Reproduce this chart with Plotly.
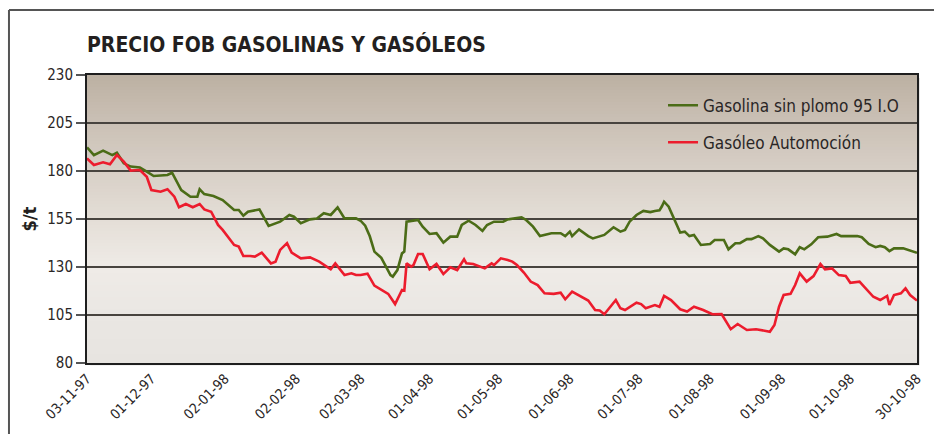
import plotly.graph_objects as go

# Precio FOB (dólares por tonelada), nov-1997 a oct-1998
fechas_gasolina = [
    "1997-11-03", "1997-11-06", "1997-11-10", "1997-11-14", "1997-11-16", "1997-11-19",
    "1997-11-22", "1997-11-26", "1997-11-29", "1997-12-02", "1997-12-08", "1997-12-10",
    "1997-12-14", "1997-12-18", "1997-12-21", "1997-12-22", "1997-12-24", "1997-12-28",
    "1998-01-01", "1998-01-06", "1998-01-08", "1998-01-10", "1998-01-12", "1998-01-17",
    "1998-01-21", "1998-01-26", "1998-01-30", "1998-02-01", "1998-02-04", "1998-02-08",
    "1998-02-11", "1998-02-14", "1998-02-17", "1998-02-20", "1998-02-23", "1998-02-28",
    "1998-03-02", "1998-03-04", "1998-03-06", "1998-03-08", "1998-03-11", "1998-03-15",
    "1998-03-16", "1998-03-18", "1998-03-20", "1998-03-21", "1998-03-22", "1998-03-27",
    "1998-03-29", "1998-04-01", "1998-04-04", "1998-04-07", "1998-04-10", "1998-04-13",
    "1998-04-15", "1998-04-18", "1998-04-21", "1998-04-24", "1998-04-26", "1998-04-29",
    "1998-05-03", "1998-05-05", "1998-05-11", "1998-05-13", "1998-05-16", "1998-05-19",
    "1998-05-24", "1998-05-28", "1998-05-30", "1998-06-01", "1998-06-02", "1998-06-05",
    "1998-06-09", "1998-06-11", "1998-06-16", "1998-06-20", "1998-06-23", "1998-06-25",
    "1998-06-27", "1998-06-30", "1998-07-03", "1998-07-06", "1998-07-08", "1998-07-10",
    "1998-07-11", "1998-07-12", "1998-07-14", "1998-07-16", "1998-07-19", "1998-07-21",
    "1998-07-23", "1998-07-25", "1998-07-28", "1998-08-01", "1998-08-03", "1998-08-07",
    "1998-08-09", "1998-08-12", "1998-08-14", "1998-08-17", "1998-08-19", "1998-08-22",
    "1998-08-24", "1998-08-27", "1998-08-31", "1998-09-02", "1998-09-04", "1998-09-07",
    "1998-09-09", "1998-09-11", "1998-09-14", "1998-09-17", "1998-09-21", "1998-09-25",
    "1998-09-27", "1998-10-04", "1998-10-06", "1998-10-09", "1998-10-12", "1998-10-14",
    "1998-10-16", "1998-10-18", "1998-10-20", "1998-10-24", "1998-10-27", "1998-10-30",
]
precio_gasolina = [
    192.3, 188.3, 190.6, 188.3, 189.5, 184.0,
    182.3, 181.8, 179.7, 177.4, 177.9, 179.1,
    170.1, 166.6, 166.6, 170.5, 168.0, 167.0,
    164.9, 159.7, 159.7, 156.7, 158.8, 160.0,
    151.4, 153.6, 157.1, 156.2, 152.8, 154.8,
    155.3, 158.0, 157.1, 161.1, 155.3, 155.3,
    154.1, 151.5, 146.0, 138.0, 134.8, 125.8,
    125.0, 128.4, 137.1, 138.0, 153.6, 154.5,
    151.0, 147.2, 147.6, 142.7, 145.8, 145.8,
    151.9, 154.1, 151.9, 148.8, 151.9, 153.6,
    153.6, 154.8, 155.9, 154.5, 151.0, 146.1,
    147.6, 147.6, 146.1, 148.4, 146.1, 149.6,
    146.1, 144.9, 146.7, 150.7, 148.4, 149.3,
    153.6, 157.1, 159.2, 158.6, 159.2, 159.5,
    161.5, 164.0, 161.4, 156.2, 147.9, 148.4,
    146.1, 146.7, 141.5, 142.0, 144.1, 144.1,
    139.2, 142.4, 142.4, 144.5, 144.5, 146.1,
    144.9, 141.5, 138.0, 139.7, 139.2, 136.6,
    140.3, 139.2, 141.8, 145.5, 145.8, 147.2,
    146.1, 146.1, 145.5, 142.0, 140.3, 141.0,
    140.3, 138.3, 139.7, 139.7, 138.5, 137.4,
]

fechas_gasoleo = [
    "1997-11-03", "1997-11-06", "1997-11-10", "1997-11-13", "1997-11-16", "1997-11-19",
    "1997-11-22", "1997-11-24", "1997-11-26", "1997-11-29", "1997-12-01", "1997-12-05",
    "1997-12-08", "1997-12-11", "1997-12-13", "1997-12-16", "1997-12-19", "1997-12-22",
    "1997-12-24", "1997-12-27", "1997-12-30", "1998-01-01", "1998-01-06", "1998-01-08",
    "1998-01-10", "1998-01-13", "1998-01-15", "1998-01-18", "1998-01-22", "1998-01-24",
    "1998-01-26", "1998-01-29", "1998-01-31", "1998-02-04", "1998-02-08", "1998-02-12",
    "1998-02-17", "1998-02-19", "1998-02-23", "1998-02-26", "1998-02-28", "1998-03-02",
    "1998-03-05", "1998-03-08", "1998-03-12", "1998-03-14", "1998-03-17", "1998-03-19",
    "1998-03-20", "1998-03-21", "1998-03-22", "1998-03-24", "1998-03-25", "1998-03-27",
    "1998-03-29", "1998-04-01", "1998-04-04", "1998-04-07", "1998-04-10", "1998-04-13",
    "1998-04-16", "1998-04-17", "1998-04-20", "1998-04-25", "1998-04-28", "1998-04-29",
    "1998-05-02", "1998-05-05", "1998-05-07", "1998-05-09", "1998-05-12", "1998-05-15",
    "1998-05-18", "1998-05-21", "1998-05-25", "1998-05-28", "1998-05-30", "1998-06-02",
    "1998-06-06", "1998-06-09", "1998-06-12", "1998-06-14", "1998-06-16", "1998-06-18",
    "1998-06-21", "1998-06-23", "1998-06-25", "1998-06-30", "1998-07-02", "1998-07-04",
    "1998-07-08", "1998-07-10", "1998-07-12", "1998-07-15", "1998-07-19", "1998-07-22",
    "1998-07-25", "1998-07-29", "1998-08-02", "1998-08-06", "1998-08-09", "1998-08-10",
    "1998-08-13", "1998-08-17", "1998-08-21", "1998-08-24", "1998-08-27", "1998-08-29",
    "1998-08-31", "1998-09-02", "1998-09-05", "1998-09-07", "1998-09-09", "1998-09-12",
    "1998-09-15", "1998-09-18", "1998-09-20", "1998-09-23", "1998-09-26", "1998-09-29",
    "1998-10-01", "1998-10-05", "1998-10-09", "1998-10-11", "1998-10-14", "1998-10-17",
    "1998-10-18", "1998-10-20", "1998-10-23", "1998-10-25", "1998-10-27", "1998-10-30",
]
precio_gasoleo = [
    186.6, 183.1, 184.5, 183.5, 188.3, 184.9,
    180.2, 180.5, 180.5, 177.0, 170.1, 169.2,
    170.5, 166.6, 161.1, 162.8, 161.1, 162.8,
    160.0, 158.8, 151.9, 149.3, 141.5, 140.6,
    135.7, 135.7, 135.4, 137.5, 131.9, 132.8,
    138.9, 142.4, 137.5, 134.5, 135.0, 132.8,
    128.8, 131.9, 125.8, 126.7, 125.8, 125.8,
    126.5, 120.3, 117.7, 116.0, 110.7, 116.0,
    118.0, 117.7, 131.9, 130.2, 131.0, 136.8,
    136.8, 128.8, 131.6, 126.3, 129.8, 128.4,
    134.0, 131.9, 131.6, 129.3, 131.9, 131.0,
    134.5, 133.6, 132.8, 131.0, 127.1, 122.4,
    120.6, 116.3, 116.0, 116.6, 113.2, 117.2,
    114.5, 112.5, 107.6, 107.3, 105.4, 108.5,
    112.8, 108.5, 107.6, 111.4, 110.7, 108.5,
    110.2, 109.3, 114.9, 112.8, 108.0, 106.8,
    109.3, 107.6, 105.4, 105.5, 99.8, 97.6,
    100.3, 97.2, 97.6, 96.8, 96.3, 99.8,
    109.3, 115.4, 116.0, 120.6, 126.7, 122.4,
    125.3, 131.6, 128.8, 129.3, 125.8, 125.3,
    121.8, 122.4, 117.2, 114.5, 112.8, 114.9,
    110.2, 115.4, 116.3, 118.9, 115.4, 112.5,
]

etiquetas_fechas = ["1997-11-03", "1997-12-01", "1998-01-02", "1998-02-02", "1998-03-02",
                    "1998-04-01", "1998-05-01", "1998-06-01", "1998-07-01", "1998-08-01",
                    "1998-09-01", "1998-10-01", "1998-10-30"]
etiquetas_texto = ["03-11-97", "01-12-97", "02-01-98", "02-02-98", "02-03-98", "01-04-98",
                   "01-05-98", "01-06-98", "01-07-98", "01-08-98", "01-09-98", "01-10-98",
                   "30-10-98"]
valores_y = [80, 105, 130, 155, 180, 205, 230]

FUENTE = "DejaVu Sans Condensed, Liberation Sans Narrow, Arial Narrow, sans-serif"
TEXTO = "#231f20"
VERDE = "#4b6c17"
ROJO = "#ec1c2d"

fig = go.Figure()
fig.add_trace(go.Scatter(x=fechas_gasolina, y=precio_gasolina, mode="lines",
                         name="Gasolina sin plomo 95 I.O", legendgroup="g1",
                         line=dict(color=VERDE, width=2.6)))
fig.add_trace(go.Scatter(x=fechas_gasoleo, y=precio_gasoleo, mode="lines",
                         name="Gasóleo Automoción", legendgroup="g2",
                         line=dict(color=ROJO, width=2.6)))

# Fondo degradado del área de trazado (de taupe arriba a gris claro abajo)
paradas = [(0.0, (188, 176, 162)), (0.17, (203, 193, 182)), (0.5, (228, 222, 215)),
           (0.67, (239, 235, 231)), (0.83, (234, 231, 227)), (1.0, (231, 228, 224))]


def color_en(t):
    for (t0, c0), (t1, c1) in zip(paradas[:-1], paradas[1:]):
        if t0 <= t <= t1:
            f = (t - t0) / (t1 - t0)
            return "rgb(%d,%d,%d)" % tuple(round(a + (b - a) * f) for a, b in zip(c0, c1))
    return "rgb(%d,%d,%d)" % paradas[-1][1]


shapes = []
# Sombra del recuadro
shapes.append(dict(type="rect", xref="paper", yref="paper", x0=0.004, x1=1.003,
                   y0=-0.008, y1=0.99, fillcolor="rgba(120,120,120,0.35)",
                   line=dict(width=0), layer="below"))
n = 96
for i in range(n):
    t = (i + 0.5) / n
    shapes.append(dict(type="rect", xref="x domain", yref="y domain",
                       x0=0, x1=1, y0=1 - i / n, y1=1 - (i + 1) / n - 0.002,
                       fillcolor=color_en(t), line=dict(width=0), layer="below"))

# Marco exterior de la figura (arriba e izquierda)
shapes.append(dict(type="line", xref="paper", yref="paper", x0=-0.094, x1=1.03,
                   y0=1.2257, y1=1.2257, line=dict(color="#555", width=2)))
shapes.append(dict(type="line", xref="paper", yref="paper", x0=-0.094, x1=-0.094,
                   y0=1.2257, y1=-0.3, line=dict(color="#555", width=2)))

fig.update_layout(
    width=934, height=434,
    margin=dict(l=87, r=17, t=75, b=71),
    paper_bgcolor="white",
    plot_bgcolor="rgba(0,0,0,0)",
    font=dict(family=FUENTE, color=TEXTO, size=15),
    shapes=shapes,
    showlegend=True,
    legend=dict(x=0.694, y=0.956, xanchor="left", yanchor="top",
                bgcolor="rgba(0,0,0,0)", font=dict(size=17, color="#2a2626"),
                tracegroupgap=12),
    annotations=[dict(text="<b>PRECIO FOB GASOLINAS Y GASÓLEOS</b>", xref="paper",
                      yref="paper", x=-0.003, y=1.105, xanchor="left", yanchor="middle",
                      showarrow=False, font=dict(size=21, color=TEXTO, family=FUENTE))],
)

fig.update_xaxes(type="date", range=["1997-11-03", "1998-10-30"],
                 tickvals=etiquetas_fechas, ticktext=etiquetas_texto, tickangle=-45,
                 showgrid=False, ticks="", tickfont=dict(size=14, color="#2a2626"),
                 showline=True, linecolor="#1e1e1e", linewidth=2, mirror=True,
                 automargin=False)
fig.update_yaxes(range=[80, 230], tickvals=valores_y, showgrid=True,
                 gridcolor="#48443f", gridwidth=2, ticks="outside", ticklen=9,
                 tickcolor="#555", tickwidth=1.5, tickfont=dict(size=15, color="#2a2626"),
                 showline=True, linecolor="#1e1e1e", linewidth=2, mirror=True,
                 zeroline=False, automargin=False,
                 title=dict(text="<b>$/t</b>", standoff=6, font=dict(size=18, color=TEXTO)))

fig.write_html("out.html")
